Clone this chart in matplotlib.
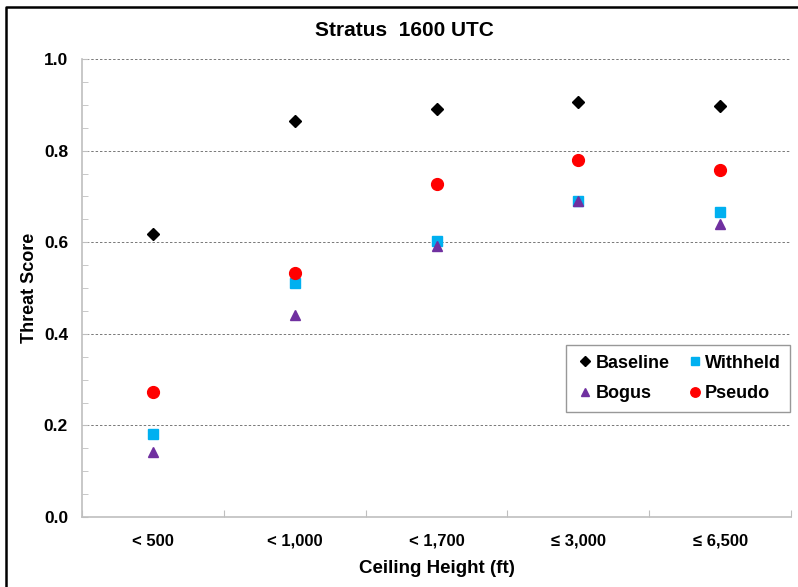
import numpy as np
import matplotlib.pyplot as plt
from matplotlib.lines import Line2D
from matplotlib.ticker import MultipleLocator

plt.rcParams['font.family'] = ['Liberation Sans', 'DejaVu Sans']

# Threat score per ceiling height category
categories = ['< 500', '< 1,000', '< 1,700', '\u2264 3,000', '\u2264 6,500']
baseline = [0.618, 0.864, 0.890, 0.907, 0.898]
withheld = [0.182, 0.511, 0.602, 0.690, 0.667]
bogus = [0.143, 0.442, 0.591, 0.689, 0.639]
pseudo = [0.273, 0.533, 0.726, 0.780, 0.758]

fig = plt.figure(figsize=(7.98, 5.87), dpi=100)
ax = fig.add_axes([82/798, 1 - 517/587, (791 - 82)/798, (517 - 59)/587])

x = np.arange(len(categories))
h_base, = ax.plot(x, baseline, 'D', color='black', ms=6.5, label='Baseline', zorder=3)
h_with, = ax.plot(x, withheld, 's', color='#00B0F0', ms=6.5, label='Withheld', zorder=3)
h_bog, = ax.plot(x, bogus, '^', color='#7030A0', ms=7.5, label='Bogus', zorder=3)
h_pse, = ax.plot(x, pseudo, 'o', color='#FF0000', ms=8.5, label='Pseudo', zorder=3)

ax.set_xlim(-0.5, len(categories) - 0.5)
ax.set_ylim(0, 1.0)
ax.yaxis.set_major_locator(MultipleLocator(0.2))
ax.yaxis.set_minor_locator(MultipleLocator(0.05))
ax.set_yticklabels([f'{v:.1f}' for v in ax.get_yticks()], fontsize=12.5, fontweight='bold')

# category labels between boundary ticks
ax.set_xticks(np.arange(-0.5, len(categories), 1.0))
ax.set_xticklabels([])
ax.set_xticks(x, minor=True)
ax.set_xticklabels(categories, minor=True, fontsize=12, fontweight='bold')
ax.tick_params(axis='x', which='major', direction='in', length=5, color='#bfbfbf')
ax.tick_params(axis='x', which='minor', length=0, pad=12)
ax.tick_params(axis='y', which='both', direction='in', length=4, color='#bfbfbf', pad=10)

ax.grid(axis='y', which='major', linestyle=(0, (2.5, 2)), color='#777777', linewidth=0.7)
ax.set_axisbelow(True)
for s in ['top', 'right']:
    ax.spines[s].set_visible(False)
for s in ['left', 'bottom']:
    ax.spines[s].set_color('#bfbfbf')
    ax.spines[s].set_linewidth(1.2)

ax.set_xlabel('Ceiling Height (ft)', fontsize=13.5, fontweight='bold', labelpad=8)
ax.set_ylabel('Threat Score', fontsize=13, fontweight='bold', labelpad=4)
fig.text(404/798, 1 - 30/587, 'Stratus  1600 UTC', fontsize=15, fontweight='bold',
         ha='center', va='center')

leg = ax.legend([h_base, h_bog, h_with, h_pse], ['Baseline', 'Bogus', 'Withheld', 'Pseudo'],
                ncol=2, loc='lower right', bbox_to_anchor=(0.999, 0.229),
                borderaxespad=0, prop={'weight': 'bold', 'size': 13},
                frameon=True, fancybox=False, markerscale=0.8,
                handletextpad=0.05, columnspacing=0.9, borderpad=0.55,
                labelspacing=0.75, handlelength=1.0)
leg.get_frame().set_edgecolor('#7f7f7f')
leg.get_frame().set_linewidth(1.0)

# outer chart frame (top and left edges)
fig.add_artist(Line2D([6/798, 6/798, 1], [0, 1 - 7/587, 1 - 7/587],
                      color='black', linewidth=1.8, transform=fig.transFigure))

fig.savefig('out.png', dpi=100)
